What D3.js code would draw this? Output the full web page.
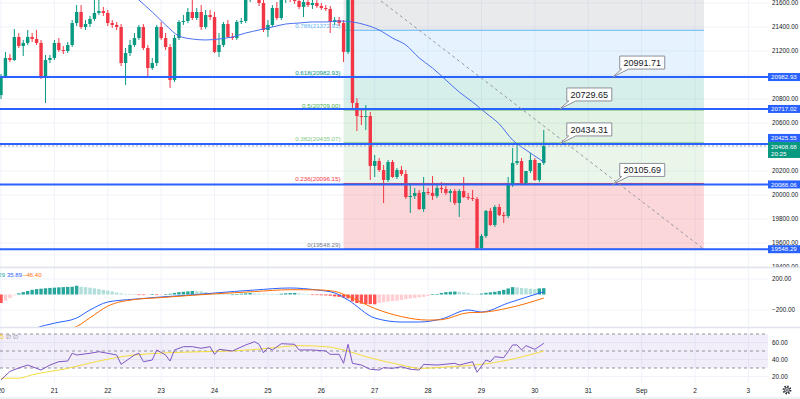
<!DOCTYPE html>
<html>
<head>
<meta charset="utf-8">
<script src="https://cdn.jsdelivr.net/npm/d3@7"></script>
<style>
  body { margin: 0; background: #fff; }
  svg { display: block; font-family: "Liberation Sans", Arial, sans-serif; }
</style>
</head>
<body>
<script>
// 2h candles, index 0 = Aug 20 00:00
const dayLabels = ["20", "21", "22", "23", "24", "25", "26", "27", "28", "29", "30", "31", "Sep", "2", "3"];
const barsPerDay = 12;

// [open, high, low, close]
const candles = [
  [20833,21008,20800,20992],[20992,21192,20975,21142],[21142,21175,21108,21125],[21125,21383,21117,21317],
  [21317,21350,21225,21242],[21242,21292,21158,21267],[21267,21375,21250,21317],[21317,21350,21275,21300],
  [21300,21375,21250,21267],[21267,21292,20967,20983],[20983,21167,20767,21125],[21125,21167,21100,21142],
  [21142,21292,21125,21267],[21267,21308,21192,21208],[21208,21242,21175,21200],[21200,21275,21183,21250],
  [21250,21458,21233,21433],[21433,21583,21408,21525],[21525,21583,21383,21400],[21400,21458,21375,21425],
  [21425,21492,21400,21467],[21467,21625,21450,21517],[21517,21625,21500,21533],[21533,21567,21492,21517],
  [21517,21542,21408,21433],[21433,21458,21392,21417],[21417,21442,21375,21400],[21400,21425,21075,21100],
  [21100,21225,20917,21183],[21183,21292,21158,21250],[21250,21350,21233,21308],[21308,21417,21292,21400],
  [21400,21425,21208,21225],[21225,21250,20975,21058],[21058,21142,21042,21100],[21100,21417,21075,21400],
  [21400,21442,21292,21308],[21308,21350,21208,21233],[21233,21258,20892,20958],[20958,21333,20942,21308],
  [21308,21458,21292,21442],[21442,21500,21417,21450],[21450,21558,21433,21525],[21525,21625,21458,21475],
  [21475,21558,21458,21525],[21525,21583,21375,21400],[21400,21542,21383,21500],[21500,21542,21458,21483],
  [21483,21525,21183,21192],[21192,21350,21150,21250],[21250,21442,21233,21425],[21425,21458,21308,21317],
  [21317,21350,21292,21308],[21308,21458,21292,21442],[21442,21475,21425,21450],[21450,21667,21433,21642],
  [21642,21792,21608,21725],[21725,21775,21625,21692],[21692,21725,21575,21600],[21600,21625,21358,21375],
  [21375,21458,21317,21417],[21417,21583,21400,21558],[21558,21608,21458,21475],[21475,21667,21458,21625],
  [21625,21750,21600,21692],[21692,21742,21608,21650],[21650,21692,21592,21617],[21617,21658,21550,21567],
  [21567,21625,21483,21608],[21608,21650,21567,21583],[21583,21625,21550,21600],[21600,21625,21558,21575],
  [21575,21600,21542,21558],[21558,21583,21533,21550],[21550,21575,21350,21442],[21442,21483,21417,21458],
  [21458,21483,21408,21433],[21433,21458,21108,21192],[21192,21870,21175,21775],[21775,21808,20725,20767],
  [20767,20808,20533,20658],[20658,20708,20583,20650],[20650,20750,20542,20658],[20658,20692,20125,20242],
  [20242,20333,20150,20283],[20283,20308,20192,20208],[20208,20250,19933,20125],[20125,20292,20108,20275],
  [20275,20292,20142,20150],[20150,20225,20133,20208],[20208,20242,20158,20175],[20175,20208,19967,19983],
  [19983,20100,19850,19992],[19992,20058,19967,20017],[20017,20042,19875,19883],[19883,20150,19858,20025],
  [20025,20058,20000,20017],[20017,20158,19958,19992],[19992,20083,19975,20058],[20058,20108,20017,20050],
  [20050,20075,20000,20017],[20017,20050,19942,20033],[20033,20050,19917,19933],[19933,20050,19817,20033],
  [20033,20150,19975,19983],[19983,20017,19958,19975],[19975,20042,19950,19967],[19967,19983,19548.29,19558],
  [19558,19675,19552,19658],[19658,19875,19642,19867],[19867,19892,19742,19750],[19750,19917,19733,19900],
  [19900,19925,19825,19833],[19833,19858,19767,19825],[19825,20150,19808,20083],[20083,20392,20067,20267],
  [20267,20433,20250,20283],[20283,20308,20092,20100],[20100,20125,20092,20200],[20200,20350,20183,20292],
  [20292,20308,20117,20125],[20125,20258,20108,20267],[20267,20542,20250,20408.68]
];

// moving average on price, [bar, value]
const maPoints = [
  [25,21858],[28,21725],[31,21625],[34,21525],[37,21417],[40,21325],[43,21300],[46,21292],[49,21300],
  [52,21317],[55,21350],[58,21375],[61,21400],[64,21425],[67,21433],[70,21442],[73,21442],[76,21450],
  [79,21442],[82,21417],[85,21375],[88,21308],[91,21250],[94,21142],[97,21058],[100,20958],[103,20858],
  [106,20775],[109,20683],[112,20592],[115,20458],[118,20375],[121,20300],[122,20275]
];

// Fibonacci retracement
const fibLevels = [0, 0.236, 0.382, 0.5, 0.618, 0.786, 1];
const fibColors = ["#787b86", "#f23645", "#81c784", "#4caf50", "#089981", "#64b5f6", "#787b86"];
const fibLow = 19548.29, fibHigh = 21869.71;
const fibStartBar = 77, fibEndBar = 158;

// horizontal lines
const hLines = [20982.93, 20717.02, 20425.55, 20088.06, 19548.29];

// price label callouts [bar, price, text]
const callouts = [
  [137.5, 20982.93, "20991.71"],
  [125.6, 20717.02, "20729.65"],
  [125.6, 20425.55, "20434.31"],
  [137.5, 20088.06, "20105.69"]
];

// dashed trend line [bar, price]
const trend = [[79, 21800], [158, 19548.29]];

const lastPrice = 20408.68, countdown = "20:25";
const priceTicks = d3.range(19400, 21601, 200);

// MACD
const macdHist = [
  -110,-80,-45,-10,15,30,45,60,70,75,80,85,88,92,95,98,100,113,100,95,88,80,70,60,50,38,25,15,8,3,
  2,-3,-6,-4,3,-5,-2,6,10,20,30,35,40,45,42,40,30,20,10,5,2,0,0,3,10,15,18,15,12,10,
  8,6,5,10,15,18,20,15,8,3,-5,-8,-10,-12,-15,-25,-30,-40,-50,-90,-110,-118,-122,-125,-126,-110,-100,-92,-85,-80,
  -70,-60,-52,-45,-38,-30,-20,3,6,20,30,35,38,35,30,20,10,8,12,22,28,35,45,60,78,95,92,85,80,75,
  70,78,82
];
const macdLine = [
  [0,-720],[8,-432],[12,-370],[17,-303],[20,-200],[24,-97],[30,-60],[36,-32],[43,-5],[48,19],[57,58],
  [65,84],[71,58],[75,20],[78,-71],[84,-303],[90,-355],[94,-355],[99,-316],[105,-200],[108,-226],
  [114,-110],[122,36]
];
const signalLine = [
  [0,-850],[8,-560],[12,-480],[17,-413],[20,-300],[24,-150],[30,-65],[36,-40],[43,-10],[48,8],[57,38],
  [65,62],[71,60],[75,40],[78,-20],[84,-180],[90,-285],[96,-330],[99,-325],[105,-235],[108,-230],
  [114,-175],[122,-46]
];
const macdLegend = ["82.29", "35.89", "\u221246.40"];
const macdTicks = [200, -200];

// RSI
const rsiPoints = [
  [0,16],[2,26],[4,30],[6,33.5],[9,27.6],[11,33.5],[13,37.4],[15,38.2],[16,47.3],[17,45.3],[20,47.3],
  [22,49.2],[24,47.3],[26,45.3],[27,34.3],[30,45.3],[31,47.3],[32,37.4],[34,39.4],[35,51.2],[37,45.3],
  [38,38.2],[39,51.2],[41,55.1],[43,55.1],[45,53.2],[47,55.1],[48,46.1],[49,52],[52,50],[53,52.4],
  [55,57.1],[57,60.9],[58,57.9],[59,48],[60,53.9],[61,51.2],[63,58.6],[66,57.9],[67,51.2],[70,51.2],
  [73,50],[74,46.1],[76,46.1],[77,35.5],[78,57.9],[79,35.5],[81,33.5],[83,28.5],[85,27.6],[86,30.4],
  [88,29.6],[90,31.5],[92,28.5],[94,27.6],[95,34.3],[98,33.5],[102,35.5],[103,33.5],[106,37.4],[107,25],
  [109,39.4],[110,37.4],[111,43.3],[113,42.1],[115,57.1],[116,57.1],[117,51.2],[118,56.3],[120,52],[122,59]
];
const rsiMa = [
  [0,18],[4,18],[7,22],[15,29.6],[22,38.2],[30,45.3],[45,49.2],[52,50],[60,53.2],[67,56.3],[73,55.1],
  [77,51.2],[82,43.3],[90,33.5],[94,29.6],[101,31.5],[108,34.3],[114,39.4],[122,50]
];
const rsiTicks = [60, 40, 20];
const rsiBands = [70, 50, 30];

const W = 800, H = 399, plotW = 768;
const up = "#089981", down = "#f23645";
const axisText = "#131722", grid = "#f0f3fa";

const svg = d3.select("body").append("svg").attr("width", W).attr("height", H);

const x = d3.scaleLinear().domain([0, 172.4]).range([1, plotW]);
const yP = d3.scaleLinear().domain([19400, 21600]).range([267, 3]);
const yM = d3.scaleLinear().domain([-200, 200]).range([310, 279]);
const yR = d3.scaleLinear().domain([20, 60]).range([376.5, 342.5]);

const defs = svg.append("defs");
[["clipMain", 0, 0, plotW, 267], ["clipMacd", 0, 268, plotW, 59], ["clipRsi", 0, 328, plotW, 55],
 ["clipAxis", plotW, 0, W - plotW, 267]].forEach(c => {
  defs.append("clipPath").attr("id", c[0]).append("rect")
    .attr("x", c[1]).attr("y", c[2]).attr("width", c[3]).attr("height", c[4]);
});

// vertical day grid
const dayIdx = dayLabels.map((d, i) => i * barsPerDay);
svg.append("g").selectAll("line").data(dayIdx).join("line")
  .attr("x1", d => x(d)).attr("x2", d => x(d))
  .attr("y1", 0).attr("y2", 383)
  .attr("stroke", grid);

// ---------- main panel ----------
const main = svg.append("g").attr("clip-path", "url(#clipMain)");

main.append("g").selectAll("line").data(priceTicks).join("line")
  .attr("x1", 0).attr("x2", plotW)
  .attr("y1", d => yP(d)).attr("y2", d => yP(d))
  .attr("stroke", grid);

// fib bands
const fibPrice = l => fibLow + l * (fibHigh - fibLow);
const fx0 = x(fibStartBar), fx1 = x(fibEndBar);
main.append("g").selectAll("rect").data(fibLevels.slice(1)).join("rect")
  .attr("x", fx0).attr("width", fx1 - fx0)
  .attr("y", d => yP(fibPrice(d)))
  .attr("height", (d, i) => yP(fibPrice(fibLevels[i])) - yP(fibPrice(d)))
  .attr("fill", (d, i) => fibColors[i + 1])
  .attr("fill-opacity", (d, i) => i === 0 ? 0.2 : 0.16);

main.append("g").selectAll("line").data(fibLevels).join("line")
  .attr("x1", fx0).attr("x2", fx1)
  .attr("y1", d => yP(fibPrice(d))).attr("y2", d => yP(fibPrice(d)))
  .attr("stroke", (d, i) => fibColors[i]).attr("stroke-width", 1);

// level labels (the 1.0 label sits above the visible range)
main.append("g").selectAll("text")
  .data(fibLevels.map((l, i) => [l, fibColors[i]]).filter(d => yP(fibPrice(d[0])) > 8))
  .join("text")
  .attr("x", fx0 - 3).attr("y", d => yP(fibPrice(d[0])) - 2)
  .attr("text-anchor", "end").attr("font-size", 6.2)
  .attr("fill", d => d[1])
  .text(d => `${d[0]}(${fibPrice(d[0]).toFixed(2)})`);

// candles
main.append("g").selectAll(".wick").data(candles).join("line")
  .attr("class", "wick")
  .attr("x1", (d, i) => x(i)).attr("x2", (d, i) => x(i))
  .attr("y1", d => yP(d[1])).attr("y2", d => yP(d[2]))
  .attr("stroke", d => d[3] >= d[0] ? up : down).attr("stroke-width", 1);
main.append("g").selectAll(".body").data(candles).join("rect")
  .attr("class", "body")
  .attr("x", (d, i) => x(i) - 1.7).attr("width", 3.4)
  .attr("y", d => yP(Math.max(d[0], d[3])))
  .attr("height", d => Math.max(1, Math.abs(yP(d[0]) - yP(d[3]))))
  .attr("fill", d => d[3] >= d[0] ? up : down);

// moving average
main.append("path").datum(maPoints)
  .attr("d", d3.line().x(d => x(d[0])).y(d => yP(d[1])).curve(d3.curveMonotoneX))
  .attr("fill", "none").attr("stroke", "#4a6ff0").attr("stroke-width", 1);

// last price line
main.append("line")
  .attr("x1", 0).attr("x2", plotW)
  .attr("y1", yP(lastPrice)).attr("y2", yP(lastPrice))
  .attr("stroke", "#a5a9b3").attr("stroke-dasharray", "2,2");

// horizontal lines
main.append("g").selectAll("line").data(hLines).join("line")
  .attr("x1", 0).attr("x2", plotW)
  .attr("y1", d => yP(d)).attr("y2", d => yP(d))
  .attr("stroke", "#2962ff").attr("stroke-width", 2);

// trend line
main.append("line")
  .attr("x1", x(trend[0][0])).attr("y1", yP(trend[0][1]))
  .attr("x2", x(trend[1][0])).attr("y2", yP(trend[1][1]))
  .attr("stroke", "#9598a1").attr("stroke-dasharray", "3,3");

// callouts
const co = main.append("g").selectAll("g").data(callouts).join("g")
  .attr("transform", d => `translate(${x(d[0])},${yP(d[1])})`);
co.append("path")
  .attr("d", "M7,-21 H52 V-8 H16 L0,0 L9,-8 H7 Z")
  .attr("fill", "#fff").attr("stroke", "#8c8f99").attr("stroke-width", 1);
co.append("text")
  .attr("x", 29.5).attr("y", -11.3).attr("text-anchor", "middle")
  .attr("font-size", 9).attr("fill", axisText)
  .text(d => d[2]);

// ---------- right price axis ----------
const boxH = 8;
const lastTop = yP(lastPrice) - 4;
const boxY = p => p === 20425.55 ? lastTop - boxH : yP(p) - boxH / 2;
const boxes = hLines.map(p => [boxY(p), boxY(p) + boxH]).concat([[lastTop, lastTop + 16]]);
// tick labels hidden behind a price box are dropped, as on the original
const visibleTicks = priceTicks.filter(t => !boxes.some(b => yP(t) >= b[0] && yP(t) <= b[1]));

const ax = svg.append("g").attr("clip-path", "url(#clipAxis)");
ax.selectAll("text").data(visibleTicks).join("text")
  .attr("x", 772).attr("y", d => yP(d)).attr("dy", "0.35em")
  .attr("font-size", 6.3).attr("fill", axisText)
  .text(d => d3.format(".2f")(d));

ax.selectAll("rect.hl").data(hLines).join("rect")
  .attr("class", "hl")
  .attr("x", plotW).attr("width", W - plotW).attr("y", d => boxY(d)).attr("height", boxH)
  .attr("fill", "#2962ff");
ax.selectAll("text.hl").data(hLines).join("text")
  .attr("class", "hl")
  .attr("x", 771).attr("y", d => boxY(d) + boxH / 2).attr("dy", "0.35em")
  .attr("font-size", 6.2).attr("fill", "#fff")
  .text(d => d.toFixed(2));
ax.append("rect").attr("x", plotW).attr("width", W - plotW)
  .attr("y", lastTop).attr("height", 16).attr("fill", up);
ax.append("text").attr("x", 771).attr("y", lastTop + 4.5).attr("dy", "0.35em")
  .attr("font-size", 6.2).attr("fill", "#fff").text(lastPrice.toFixed(2));
ax.append("text").attr("x", 771).attr("y", lastTop + 11.5).attr("dy", "0.35em")
  .attr("font-size", 6.2).attr("fill", "#fff").text(countdown);

// ---------- MACD ----------
const macd = svg.append("g").attr("clip-path", "url(#clipMacd)");
macd.append("g").selectAll("line").data(macdTicks).join("line")
  .attr("x1", 0).attr("x2", plotW)
  .attr("y1", d => yM(d)).attr("y2", d => yM(d)).attr("stroke", grid);

const histColor = (v, i) => {
  const prev = i > 0 ? macdHist[i - 1] : v;
  if (v >= 0) return v >= prev ? "#26a69a" : "#b2dfdb";
  return v <= prev ? "#ff5252" : "#ffcdd2";
};
macd.append("g").selectAll("rect").data(macdHist).join("rect")
  .attr("x", (d, i) => x(i) - 1.7).attr("width", 3.4)
  .attr("y", d => yM(Math.max(0, d)))
  .attr("height", d => Math.max(0.6, Math.abs(yM(d) - yM(0))))
  .attr("fill", histColor);

const lineM = d3.line().x(d => x(d[0])).y(d => yM(d[1])).curve(d3.curveMonotoneX);
macd.append("path").datum(macdLine).attr("d", lineM)
  .attr("fill", "none").attr("stroke", "#2962ff").attr("stroke-width", 1);
macd.append("path").datum(signalLine).attr("d", lineM)
  .attr("fill", "none").attr("stroke", "#ff6d00").attr("stroke-width", 1);

// legend: first value runs off the left edge like the original
const legX = [5, 7, 23];
const legC = ["#26a69a", "#2962ff", "#ff6d00"];
svg.append("g").selectAll("text").data(macdLegend).join("text")
  .attr("x", (d, i) => legX[i]).attr("y", 277)
  .attr("text-anchor", (d, i) => i === 0 ? "end" : "start")
  .attr("font-size", 6).attr("fill", (d, i) => legC[i])
  .text(d => d);

svg.append("g").selectAll("text").data(macdTicks).join("text")
  .attr("x", 772).attr("y", d => yM(d)).attr("dy", "0.35em")
  .attr("font-size", 6.3).attr("fill", axisText)
  .text(d => d3.format(".2f")(d).replace("-", "\u2212"));

// ---------- RSI ----------
const rsi = svg.append("g").attr("clip-path", "url(#clipRsi)");
rsi.append("g").selectAll("line").data(rsiTicks).join("line")
  .attr("x1", 0).attr("x2", plotW)
  .attr("y1", d => yR(d)).attr("y2", d => yR(d)).attr("stroke", grid);
rsi.append("rect").attr("x", 0).attr("width", plotW)
  .attr("y", yR(70)).attr("height", yR(30) - yR(70))
  .attr("fill", "#7e57c2").attr("fill-opacity", 0.1);
rsi.append("g").selectAll("line").data(rsiBands).join("line")
  .attr("x1", 0).attr("x2", plotW)
  .attr("y1", d => yR(d)).attr("y2", d => yR(d))
  .attr("stroke", "#787b86").attr("stroke-opacity", 0.8).attr("stroke-dasharray", "3,3");

rsi.append("path").datum(rsiMa)
  .attr("d", d3.line().x(d => x(d[0])).y(d => yR(d[1])).curve(d3.curveMonotoneX))
  .attr("fill", "none").attr("stroke", "#f5dc3c").attr("stroke-width", 1);
rsi.append("path").datum(rsiPoints)
  .attr("d", d3.line().x(d => x(d[0])).y(d => yR(d[1])))
  .attr("fill", "none").attr("stroke", "#7e57c2").attr("stroke-width", 1);

svg.append("text").attr("x", 0).attr("y", 338.5)
  .attr("font-size", 6.5).attr("fill", "#f5c518").text("5");
svg.append("text").attr("x", 6).attr("y", 338.5)
  .attr("font-size", 6).attr("fill", "#787b86").text("\u2205 \u2205");

svg.append("g").selectAll("text").data(rsiTicks).join("text")
  .attr("x", 772).attr("y", d => yR(d)).attr("dy", "0.35em")
  .attr("font-size", 6.3).attr("fill", axisText)
  .text(d => d3.format(".2f")(d));

// panel separators
svg.append("g").selectAll("line").data([267.5, 327.5]).join("line")
  .attr("x1", 0).attr("x2", W).attr("y1", d => d).attr("y2", d => d)
  .attr("stroke", "#e0e3eb").attr("stroke-width", 1.5);
svg.append("line").attr("x1", 0).attr("x2", W).attr("y1", 398).attr("y2", 398)
  .attr("stroke", "#e0e3eb");

// ---------- time axis ----------
svg.append("g").selectAll("text").data(dayLabels).join("text")
  .attr("x", (d, i) => x(i * barsPerDay)).attr("y", 391).attr("dy", "0.35em")
  .attr("text-anchor", "middle").attr("font-size", 6.5).attr("fill", axisText)
  .text(d => d);

// settings gear
const gear = svg.append("g").attr("transform", "translate(787,390)");
gear.append("circle").attr("r", 3.6).attr("fill", "none")
  .attr("stroke", axisText).attr("stroke-width", 1.6).attr("stroke-dasharray", "1.4,1.4");
gear.append("circle").attr("r", 2.4).attr("fill", "none")
  .attr("stroke", axisText).attr("stroke-width", 0.8);
gear.append("circle").attr("r", 1).attr("fill", "none")
  .attr("stroke", axisText).attr("stroke-width", 0.6);
</script>
</body>
</html>
